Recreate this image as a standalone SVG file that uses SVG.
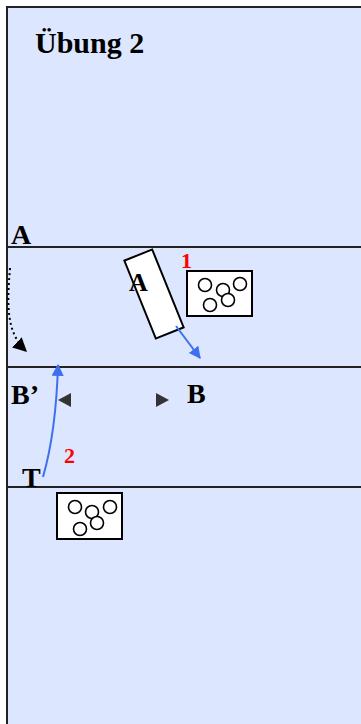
<svg xmlns="http://www.w3.org/2000/svg" width="361" height="724" viewBox="0 0 361 724">
  <defs>
    <style>
      .lbl { font-family: "Liberation Serif", "Times New Roman", serif; font-weight: bold; fill: #000; }
      .num { font-family: "Liberation Serif", "Times New Roman", serif; font-weight: bold; fill: #ff0000; font-size: 22px; }
      .rule { stroke: #222; stroke-width: 2; fill: none; }
      .box { fill: #fff; stroke: #000; stroke-width: 2; }
      .ball { fill: #fff; stroke: #000; stroke-width: 1.6; }
      .mark { fill: #333; }
      .blue { stroke: #3d6ff0; stroke-width: 2; fill: none; }
    </style>
    <marker id="blueHead" viewBox="0 0 10 10" refX="9" refY="5" markerWidth="6" markerHeight="6" orient="auto" markerUnits="strokeWidth">
      <path d="M0,0 L10,5 L0,10 z" fill="#3d6ff0"/>
    </marker>
    <marker id="blackHead" viewBox="0 0 10 10" refX="9" refY="5" markerWidth="7" markerHeight="7" orient="auto" markerUnits="strokeWidth">
      <path d="M0,0 L10,5 L0,10 z" fill="#000"/>
    </marker>
  </defs>

  <!-- field -->
  <rect x="0" y="0" width="361" height="724" fill="#fff"/>
  <rect x="7" y="7" width="354" height="717" fill="#dce6fe"/>
  <g id="borders">
    <line class="rule" x1="7" y1="7" x2="7" y2="724"/>
    <line class="rule" x1="6" y1="7" x2="361" y2="7"/>
    <line class="rule" x1="7" y1="247" x2="361" y2="247"/>
    <line class="rule" x1="7" y1="367" x2="361" y2="367"/>
    <line class="rule" x1="7" y1="487" x2="361" y2="487"/>
  </g>

  <text id="title" class="lbl" x="35" y="53" font-size="30">Übung 2</text>

  <!-- labels -->
  <g id="labels">
    <text class="lbl" x="11" y="244" font-size="28">A</text>
    <text class="lbl" x="11" y="404" font-size="28">B’</text>
    <text class="lbl" x="187" y="403" font-size="28">B</text>
    <text class="lbl" x="22" y="487" font-size="28">T</text>
    <text class="num" x="181" y="268">1</text>
    <text class="num" x="64" y="463">2</text>
  </g>

  <!-- player A -->
  <g id="playerA">
    <rect class="box" x="139" y="252" width="30" height="84" transform="rotate(-22 154 294)"/>
    <text class="lbl" x="129" y="291" font-size="26">A</text>
  </g>

  <!-- cone box 1 -->
  <g id="box1">
    <rect class="box" x="187" y="271" width="65" height="45"/>
    <circle class="ball" cx="205" cy="285" r="6.5"/>
    <circle class="ball" cx="223" cy="290" r="6.5"/>
    <circle class="ball" cx="240" cy="284" r="6.5"/>
    <circle class="ball" cx="210" cy="305" r="6.5"/>
    <circle class="ball" cx="228" cy="300" r="6.5"/>
  </g>

  <!-- cone box 2 -->
  <g id="box2">
    <rect class="box" x="57" y="493" width="65" height="46"/>
    <circle class="ball" cx="75" cy="507" r="6.5"/>
    <circle class="ball" cx="92" cy="512" r="6.5"/>
    <circle class="ball" cx="110" cy="507" r="6.5"/>
    <circle class="ball" cx="80" cy="529" r="6.5"/>
    <circle class="ball" cx="97" cy="523" r="6.5"/>
  </g>

  <!-- small direction marks between B' and B -->
  <g id="marks">
    <path class="mark" d="M58,400 L71,393 L71,407 z"/>
    <path class="mark" d="M169,400 L156,393 L156,407 z"/>
  </g>

  <!-- movement connectors -->
  <g id="connectors">
    <path d="M10,268 C7,305 6,332 26,351" fill="none" stroke="#000" stroke-width="2" stroke-dasharray="2,3" marker-end="url(#blackHead)"/>
    <path class="blue" d="M176,326 L200,358" marker-end="url(#blueHead)"/>
    <path class="blue" d="M43,477 Q56,432 58,365" marker-end="url(#blueHead)"/>
  </g>
</svg>
